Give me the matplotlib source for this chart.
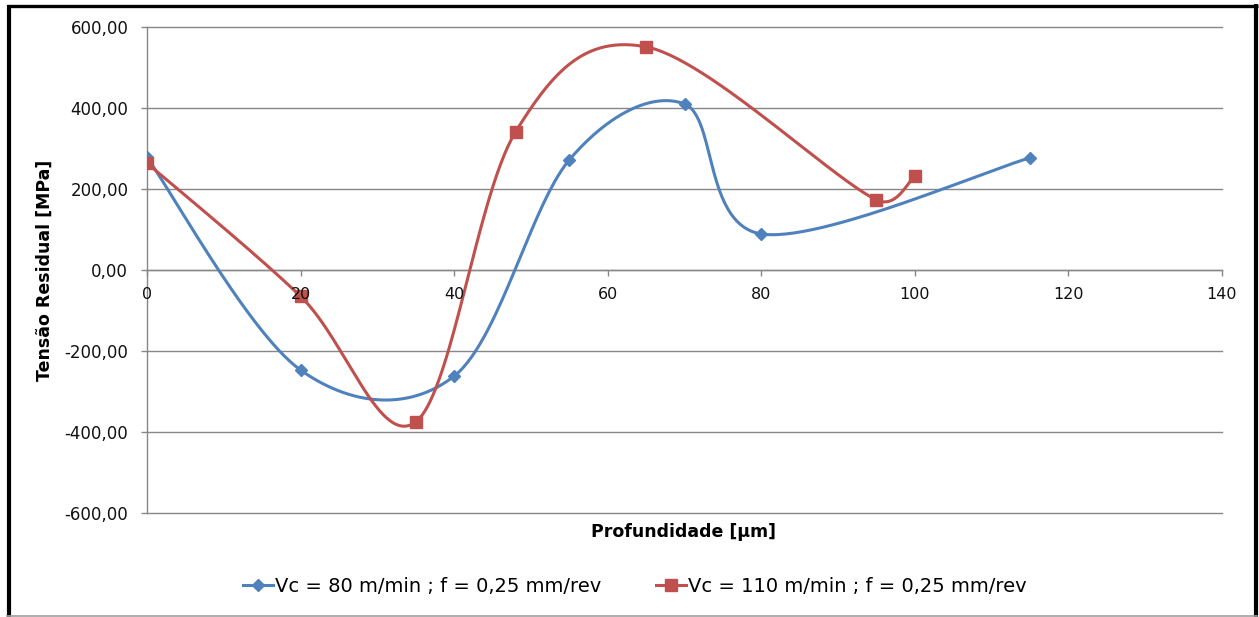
import numpy as np
import matplotlib
matplotlib.use("Agg")
import matplotlib.pyplot as plt
from matplotlib.lines import Line2D
from matplotlib.ticker import FixedLocator, FuncFormatter

# Residual stress profiles versus depth
depth_80 = [0, 20, 40, 55, 70, 80, 115]
stress_80 = [278, -247, -262, 272, 410, 89, 277]

depth_110 = [0, 20, 35, 48, 65, 95, 100]
stress_110 = [264, -65, -375, 341, 551, 173, 232]

label_80 = "Vc = 80 m/min ; f = 0,25 mm/rev"
label_110 = "Vc = 110 m/min ; f = 0,25 mm/rev"

x_ticks = [0, 20, 40, 60, 80, 100, 120, 140]
y_ticks = [-600, -400, -200, 0, 200, 400, 600]

BLUE = "#4F81BD"
RED = "#C0504D"
GRID = "#878787"

W, H = 1259, 617
fig = plt.figure(figsize=(W / 100, H / 100), dpi=100)
plt.rcParams["font.family"] = ["DejaVu Sans"]

x0, x1, y0, y1 = 147, 1222, 27, 513
ax = fig.add_axes([x0 / W, 1 - y1 / H, (x1 - x0) / W, (y1 - y0) / H])
ax.set_xlim(x_ticks[0], x_ticks[-1])
ax.set_ylim(y_ticks[0], y_ticks[-1])


def smooth_curve(ax, xs, ys, n=60):
    """Cubic Bezier smoothing through the points (Catmull-Rom tangents)."""
    pts = ax.transData.transform(np.column_stack([xs, ys]).astype(float))
    m = len(pts)
    tang = np.array([(pts[min(i + 1, m - 1)] - pts[max(i - 1, 0)]) / 6.0
                     for i in range(m)])
    t = np.linspace(0, 1, n)[1:, None]
    parts = [pts[:1]]
    for i in range(m - 1):
        p0, p3 = pts[i], pts[i + 1]
        seg_len = np.linalg.norm(p3 - p0)

        def clip(d):
            ln = np.linalg.norm(d)
            lim = seg_len / 2.0
            return d if ln <= lim or ln == 0 else d * lim / ln

        c1 = p0 + clip(tang[i])
        c2 = p3 - clip(tang[i + 1])
        seg = ((1 - t) ** 3 * p0 + 3 * (1 - t) ** 2 * t * c1
               + 3 * (1 - t) * t ** 2 * c2 + t ** 3 * p3)
        parts.append(seg)
    curve = np.vstack(parts)
    return ax.transData.inverted().transform(curve)


c80 = smooth_curve(ax, depth_80, stress_80)
c110 = smooth_curve(ax, depth_110, stress_110)

ax.plot(c80[:, 0], c80[:, 1], color=BLUE, lw=2.2, zorder=3, solid_capstyle="round")
ax.plot(depth_80, stress_80, ls="none", marker="D", ms=5.8, color=BLUE, zorder=3)
ax.plot(c110[:, 0], c110[:, 1], color=RED, lw=2.2, zorder=4, solid_capstyle="round")
ax.plot(depth_110, stress_110, ls="none", marker="s", ms=8.5, color=RED, zorder=4)

# Axes styling: horizontal grid, axes crossing at zero
for s in ("top", "right"):
    ax.spines[s].set_visible(False)
ax.spines["bottom"].set_position(("data", 0))
ax.spines["left"].set_position(("data", 0))
for s in ("bottom", "left"):
    ax.spines[s].set_color(GRID)
    ax.spines[s].set_linewidth(1.0)
    ax.spines[s].set_zorder(1)

ax.yaxis.set_major_locator(FixedLocator(y_ticks))
ax.xaxis.set_major_locator(FixedLocator(x_ticks))
ax.yaxis.set_major_formatter(FuncFormatter(lambda v, p: f"{v:.2f}".replace(".", ",")))
ax.xaxis.set_major_formatter(FuncFormatter(lambda v, p: f"{v:.0f}"))
ax.grid(axis="y", color=GRID, lw=1.0, zorder=0)
ax.set_axisbelow(True)
ax.tick_params(axis="y", direction="out", length=4.5, width=1.0, color=GRID,
               pad=9, labelsize=12, labelcolor="#111111")
ax.tick_params(axis="x", direction="out", length=4.5, width=1.0, color=GRID,
               pad=8, labelsize=11.5, labelcolor="#111111")
ax.xaxis.set_zorder(5)
ax.patch.set_visible(False)
for gl in ax.get_ygridlines():
    gl.set_clip_on(False)

fig.text(45 / W, 1 - 270 / H, "Tensão Residual [MPa]", rotation=90,
         ha="center", va="center", fontsize=12.5, fontweight="bold")
fig.text(684 / W, 1 - 532 / H, "Profundidade [µm]", ha="center", va="center",
         fontsize=12.5, fontweight="bold")

handles = [
    Line2D([], [], color=BLUE, lw=2.2, marker="D", ms=6.5),
    Line2D([], [], color=RED, lw=2.2, marker="s", ms=9),
]
fig.legend(handles, [label_80, label_110], loc="center",
           bbox_to_anchor=(635 / W, 1 - 586 / H), ncol=2, frameon=False,
           fontsize=14, handlelength=1.55, handletextpad=0.1,
           columnspacing=2.8, borderaxespad=0, borderpad=0)

# Outer frame
def fline(xs, ys, **kw):
    fig.add_artist(Line2D([x / W for x in xs], [1 - y / H for y in ys], **kw))

fline([8.5, 8.5], [5, 617], color="black", lw=3.0, solid_capstyle="butt")
fline([7, 1257.5], [5.5, 5.5], color="black", lw=2.4, solid_capstyle="butt")
fline([1255.5, 1255.5], [4, 617], color="black", lw=3.0, solid_capstyle="butt")
fline([7, 1257], [615.8, 615.8], color="#a0a0a0", lw=1.2)

fig.savefig("out.png", dpi=100, facecolor="white")
